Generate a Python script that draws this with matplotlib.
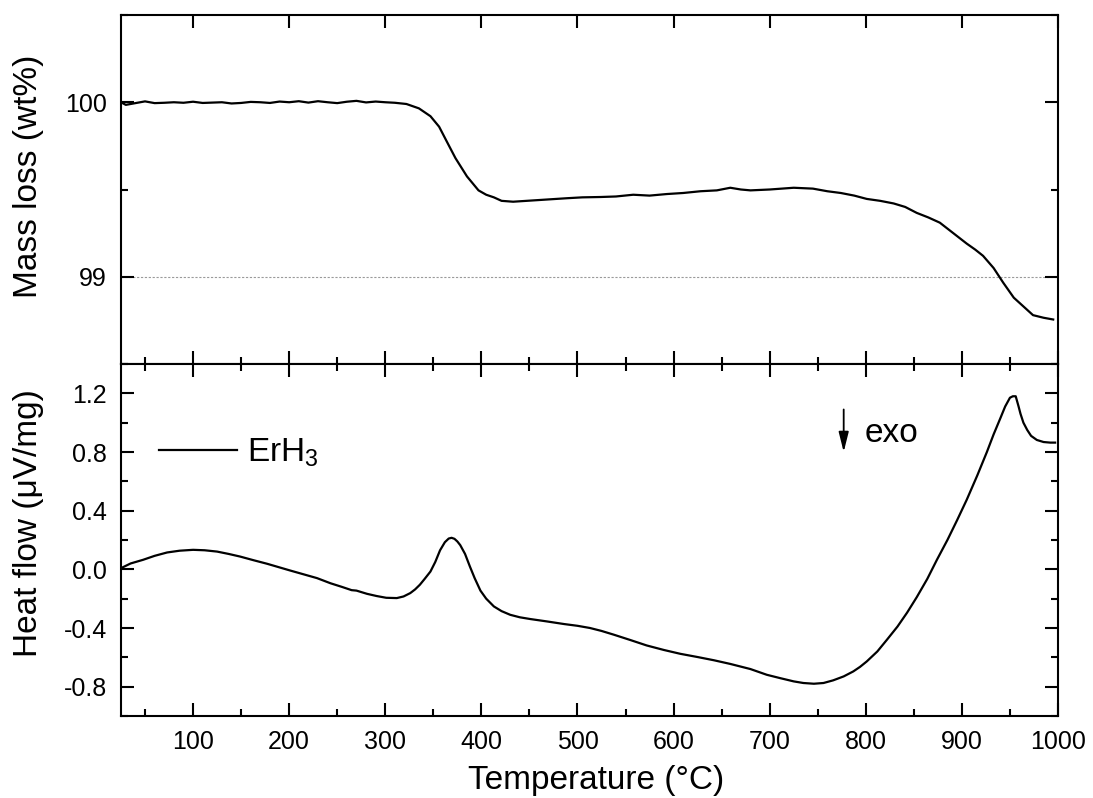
import matplotlib
matplotlib.use("Agg")
import matplotlib.pyplot as plt
from matplotlib.ticker import MultipleLocator

plt.rcParams['font.family'] = ['Liberation Sans', 'DejaVu Sans']
plt.rcParams['mathtext.fontset'] = 'custom'
plt.rcParams['mathtext.rm'] = 'Liberation Sans'

# TG: mass vs temperature
mass_T = [25, 30, 40, 50, 60, 70, 80, 90, 100, 110, 120, 130, 140, 150, 160, 170,
          180, 190, 200, 210, 220, 230, 240, 250, 260, 270, 280, 290, 300, 310,
          322, 335, 347, 356, 364, 373, 385, 397, 405, 413, 421, 433, 447, 461,
          475, 489, 505, 524, 540, 558, 575, 593, 610, 628, 645, 659, 670, 680,
          700, 725, 745, 760, 774, 788, 801, 815, 829, 841, 853, 865, 877, 891,
          905, 914, 922, 933, 943, 954, 964, 974, 985, 995]
mass_wt = [100.00, 99.985, 99.995, 100.005, 99.995, 99.997, 100.0, 99.997, 100.003,
           99.996, 99.998, 100.0, 99.993, 99.996, 100.002, 100.0, 99.996, 100.004,
           100.0, 100.006, 99.998, 100.006, 100.0, 99.995, 100.003, 100.008, 99.999,
           100.004, 100.0, 99.997, 99.99, 99.965, 99.92, 99.86, 99.775, 99.68,
           99.575, 99.495, 99.47, 99.455, 99.435, 99.43, 99.435, 99.44, 99.445, 99.45,
           99.455, 99.457, 99.46, 99.47, 99.465, 99.474, 99.48, 99.49, 99.495,
           99.51, 99.50, 99.495, 99.50, 99.51, 99.505, 99.49, 99.48, 99.465, 99.446,
           99.435, 99.42, 99.40, 99.366, 99.34, 99.31, 99.25, 99.19, 99.155, 99.12,
           99.05, 98.966, 98.88, 98.83, 98.78, 98.765, 98.755]

# DTA: heat flow vs temperature
hf_T = [25, 35, 48, 60, 73, 86, 100, 112, 125, 137, 149, 163, 177, 189, 201, 215,
        229, 243, 255, 265, 270, 281, 291, 301, 312, 319, 326, 331, 336, 341, 347,
        352, 357, 362, 366, 369, 372, 375, 378, 383, 388, 393, 399, 405, 413, 421,
        430, 440, 451, 468, 486, 500, 513, 525, 538, 555, 572, 590, 607, 625, 642,
        659, 680, 697, 711, 725, 735, 746, 756, 766, 777, 787, 794, 801, 812, 822,
        833, 843, 853, 864, 874, 885, 895, 905, 916, 926, 933, 940, 945, 950, 953,
        956, 959, 961, 964, 968, 972, 978, 985, 992, 997]
hf_val = [0.008, 0.04, 0.065, 0.092, 0.115, 0.127, 0.133, 0.13, 0.121, 0.105, 0.087,
          0.062, 0.038, 0.015, -0.008, -0.034, -0.06, -0.095, -0.12, -0.142, -0.145,
          -0.167, -0.182, -0.194, -0.196, -0.185, -0.162, -0.137, -0.105, -0.065,
          -0.015, 0.05, 0.13, 0.185, 0.21, 0.215, 0.208, 0.19, 0.165, 0.105, 0.02,
          -0.06, -0.145, -0.2, -0.253, -0.285, -0.31, -0.327, -0.339, -0.355, -0.373,
          -0.385, -0.4, -0.42, -0.446, -0.482, -0.519, -0.55, -0.576, -0.598, -0.62,
          -0.645, -0.68, -0.719, -0.742, -0.764, -0.775, -0.78, -0.775, -0.757, -0.73,
          -0.696, -0.665, -0.628, -0.56, -0.48, -0.39, -0.295, -0.19, -0.065, 0.065,
          0.201, 0.335, 0.474, 0.64, 0.80, 0.92, 1.03, 1.11, 1.17, 1.18, 1.18, 1.11,
          1.06, 1.0, 0.95, 0.91, 0.882, 0.868, 0.864, 0.864]

fig = plt.figure(figsize=(10.93, 7.98), dpi=100)
left, right = 121 / 1093, 1058 / 1093
y_top, y_mid, y_bot = 1 - 15 / 798, 1 - 364 / 798, 1 - 716 / 798
ax1 = fig.add_axes([left, y_mid, right - left, y_top - y_mid])
ax2 = fig.add_axes([left, y_bot, right - left, y_mid - y_bot], sharex=ax1)

for ax in (ax1, ax2):
    for s in ax.spines.values():
        s.set_linewidth(1.5)
    ax.tick_params(which='both', direction='in', width=1.5, labelsize=18,
                   top=True, right=True, pad=10)
    ax.tick_params(which='major', length=9.5)
    ax.tick_params(which='minor', length=5)

# upper panel
ax1.plot(mass_T, mass_wt, color='black', lw=1.6)
ax1.axhline(99, color='#9a9a9a', lw=0.8, ls=(0, (2, 1.5)), zorder=0)
ax1.set_xlim(25, 1000)
ax1.set_ylim(98.5, 100.5)
ax1.yaxis.set_major_locator(MultipleLocator(1))
ax1.yaxis.set_minor_locator(MultipleLocator(0.5))
ax1.xaxis.set_major_locator(MultipleLocator(100))
ax1.xaxis.set_minor_locator(MultipleLocator(50))
ax1.tick_params(labelbottom=False)
ax1.tick_params(axis='x', which='minor', top=False)
ax1.set_yticks([99, 100])
ax1.set_yticklabels(['99', '100'])
ax1.set_ylabel('Mass loss (wt%)', fontsize=24, va='center')
ax1.yaxis.set_label_coords(-0.099, 0.539)

# lower panel
ax2.plot(hf_T, hf_val, color='black', lw=1.6, label='ErH$_\\mathregular{3}$')
ax2.set_ylim(-1.0, 1.4)
ax2.set_yticks([-0.8, -0.4, 0.0, 0.4, 0.8, 1.2])
ax2.set_yticklabels(['-0.8', '-0.4', '0.0', '0.4', '0.8', '1.2'])
ax2.yaxis.set_minor_locator(MultipleLocator(0.2))
ax2.set_ylabel('Heat flow (\u03bcV/mg)', fontsize=24, va='center')
ax2.yaxis.set_label_coords(-0.099, 0.548)
ax2.set_xlabel('Temperature (\u00b0C)', fontsize=24, va='center')
ax2.xaxis.set_label_coords(0.5075, -0.182)

ax2.legend(loc='center left', bbox_to_anchor=(0.0406, 0.747), frameon=False,
           fontsize=24, handlelength=2.35, handletextpad=0.3, borderpad=0,
           borderaxespad=0)

ax2.annotate('', xy=(777, 0.80), xytext=(777, 1.09),
             arrowprops=dict(arrowstyle='-|>,head_length=0.6,head_width=0.15',
                             mutation_scale=20, lw=1.3, color='black',
                             shrinkA=0, shrinkB=0))
ax2.text(799, 0.871, 'exo', fontsize=24, ha='left', va='baseline')

fig.savefig('out.png', dpi=100)
